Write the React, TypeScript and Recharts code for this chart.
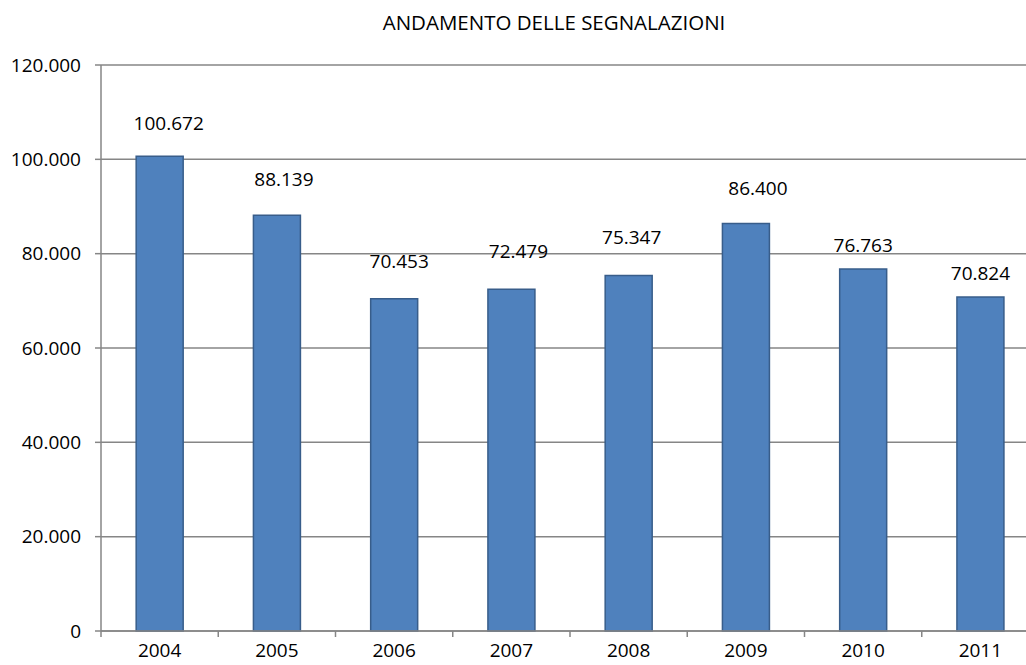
import React from 'react';
import { BarChart, Bar, XAxis, YAxis, CartesianGrid, LabelList } from 'recharts';

const years = ['2004', '2005', '2006', '2007', '2008', '2009', '2010', '2011'];
const segnalazioni = [100672, 88139, 70453, 72479, 75347, 86400, 76763, 70824];
const yTicks = [0, 20000, 40000, 60000, 80000, 100000, 120000];
const title = 'ANDAMENTO DELLE SEGNALAZIONI';

const data = years.map((y, i) => ({ year: y, value: segnalazioni[i] }));

const CHART_W = 1040;
const CHART_H = 665;
const Y_W = 101;
const M_RIGHT = 1;
const PLOT_W = CHART_W - Y_W - M_RIGHT;
const BAND = PLOT_W / years.length;
const FONT = '"Open Sans", sans-serif';
const FS = 19;
const AXIS = '#868686';

// manual label nudges (as in the original, labels were hand-placed)
const LABEL_DX = [9, 7, 5, 7, 3, 12, 0, 0];
const LABEL_DY = [-33, -36, -38, -38, -39, -35, -24, -24];

const fmt = (v: number) => (v === 0 ? '0' : v.toLocaleString('de-DE'));

const XTick = (props: any) => {
  const { x, payload, index } = props;
  const half = BAND / 2;
  return (
    <g>
      <line x1={x + half} x2={x + half} y1={631} y2={637} stroke={AXIS} strokeWidth={1.5} />
      {index === 0 && <line x1={x - half} x2={x - half} y1={631} y2={637} stroke={AXIS} strokeWidth={1.5} />}
      <text x={x} y={650} textAnchor="middle" dominantBaseline="central" fontFamily={FONT} fontSize={FS} fill="#000">
        {payload.value}
      </text>
    </g>
  );
};

const renderLabel = (props: any) => {
  const { x, y, width, value, index } = props;
  return (
    <text
      x={x + width / 2 + LABEL_DX[index]}
      y={y + LABEL_DY[index]}
      textAnchor="middle"
      dominantBaseline="central"
      fontFamily={FONT}
      fontSize={FS}
      fill="#000"
    >
      {fmt(value)}
    </text>
  );
};

export default function App() {
  return (
    <div style={{ position: 'absolute', left: 0, top: 0, width: 1026, height: 665, overflow: 'hidden', background: '#fff' }}>
      <BarChart
        width={CHART_W}
        height={CHART_H}
        data={data}
        margin={{ top: 65, right: M_RIGHT, left: 0, bottom: 0 }}
        barCategoryGap="30%"
      >
        <text x={554} y={22} textAnchor="middle" dominantBaseline="central" fontFamily={FONT} fontSize={20.5} fill="#000">
          {title}
        </text>
        <CartesianGrid vertical={false} stroke={AXIS} strokeWidth={1.5} />
        <XAxis
          dataKey="year"
          height={34}
          axisLine={{ stroke: AXIS, strokeWidth: 1.5 }}
          tickLine={false}
          tick={<XTick />}
          interval={0}
        />
        <YAxis
          width={Y_W}
          domain={[0, 120000]}
          ticks={yTicks}
          tickFormatter={fmt}
          axisLine={{ stroke: AXIS, strokeWidth: 1.5 }}
          tickLine={{ stroke: AXIS, strokeWidth: 1.5 }}
          tickSize={6}
          tickMargin={14}
          tick={{ fontFamily: FONT, fontSize: FS, fill: '#000' }}
        />
        <Bar dataKey="value" fill="#4F81BD" stroke="#385D8A" strokeWidth={1.5} isAnimationActive={false}>
          <LabelList dataKey="value" content={renderLabel} />
        </Bar>
      </BarChart>
    </div>
  );
}
